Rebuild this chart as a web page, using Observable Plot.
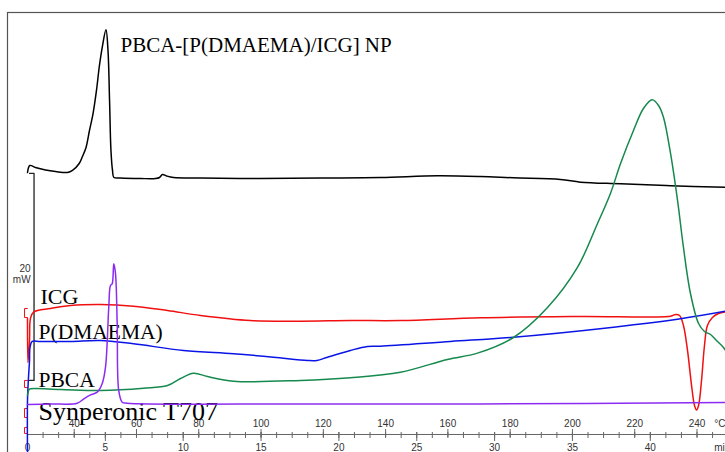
<!DOCTYPE html>
<html><head><meta charset="utf-8">
<script src="https://cdn.jsdelivr.net/npm/d3@7"></script>
<script src="https://cdn.jsdelivr.net/npm/@observablehq/plot@0.6"></script>
<style>html,body{margin:0;padding:0;background:#fff;} #chart svg{display:block}</style>
</head><body><div id="chart"></div>
<script>
// ---- DATA: DSC traces, time in min, heat flow in mW (curves offset vertically) ----
const npTime = [0,0.15,0.51,1.16,1.80,2.57,2.89,3.32,3.53,3.76,3.98,4.21,4.43,4.62,4.82,5.04,5.17,5.27,5.36,5.46,5.55,5.97,7.26,8.22,8.48,8.67,8.93,9.38,11.11,14.96,18.82,22.67,26.33,29.09,31.21,34.23,35.52,38.09,41.30,44.83];
const npFlow = [25.31,25.99,25.80,25.56,25.41,25.31,25.51,26.18,26.86,27.73,29.37,31.01,33.24,35.65,37.58,39.10,37.10,32.27,27.44,25.51,24.83,24.78,24.73,24.73,24.83,25.12,24.98,24.83,24.78,24.73,24.78,24.83,25.00,24.93,24.80,24.64,24.38,24.22,24.03,23.89];

const icgTime = [0,0.03,0.13,0.19,0.39,1.48,2.76,4.69,6.81,8.99,11.11,14.32,17.53,20.74,23.96,29.09,35.52,41.30,41.62,41.88,42.13,42.39,42.65,42.84,42.97,43.10,43.29,43.48,43.67,43.99,44.38,44.83];
const icgFlow = [11.21,6.96,9.08,11.21,11.82,12.17,12.46,12.56,12.40,11.98,11.50,11.01,10.95,11.01,11.01,11.28,11.40,11.43,11.59,11.50,10.53,8.12,4.73,2.80,2.37,2.80,5.22,8.60,10.53,11.30,11.69,11.84];

const pdmaemaTime = [0,0,0.06,0.13,0.16,0.30,0.83,2.76,4.69,6.81,10.02,13.23,15.80,17.98,18.59,19.27,20.74,21.84,22.67,27.17,31.21,37.64,41.94,44.83];
const pdmaemaFlow = [-1.74,3.29,5.41,7.15,8.41,8.99,8.99,8.99,9.08,8.76,8.12,7.80,7.47,7.15,7.15,7.47,8.12,8.50,8.53,8.99,9.40,10.37,11.18,11.91];

const pbcaTime = [0,0.10,0.19,2.12,4.69,7.45,8.99,9.83,10.66,11.56,13.23,17.53,20.74,23.96,26.97,28.90,31.21,33.40,35.32,36.61,37.44,38.09,38.92,39.56,40.12,40.53,40.85,41.30,41.75,42.13,42.58,43.10,43.48,43.87,44.25,44.70,44.83];
const pbcaFlow = [3.77,4.35,4.42,4.35,4.25,4.47,4.73,5.41,5.92,5.60,5.15,5.22,5.48,6.02,7.25,7.86,9.37,12.27,16.14,20.39,23.29,26.18,29.37,31.50,32.34,31.79,30.63,27.15,22.61,18.07,13.62,10.72,9.95,9.66,9.08,8.41,8.12];

const t707Time = [0,1.48,3.19,3.62,4.05,4.48,4.80,5.01,5.22,5.33,5.44,5.54,5.65,5.76,5.86,6.08,6.40,17.53,29.09,44.83];
const t707Flow = [2.90,2.95,3.02,3.45,3.82,4.09,4.93,6.50,12.30,14.40,14.56,16.49,15.56,10.72,4.25,3.12,3.02,2.95,2.95,3.09];

// axis ticks
const timeTicks = [0,5,10,15,20,25,30,35,40];
const minuteTicks = [0,1,2,3,4,5,6,7,8,9,10,11,12,13,14,15,16,17,18,19,20,21,22,23,24,25,26,27,28,29,30,31,32,33,34,35,36,37,38,39,40,41,42,43,44];
const tempTicks = [40,60,80,100,120,140,160,180,200,220,240];
const startTemp = 25;   // °C at t = 0
const heatingRate = 5;  // °C per min

// start-temperature markers (mW ranges) and the 20 mW scale bar
const markerTop = [12.17,5.22,2.51,0.68];
const markerBottom = [11.30,4.54,1.64,0.10];
const scaleBarLow = 5.22, scaleBarSpan = 20;

// curve names
const names = ["PBCA-[P(DMAEMA)/ICG] NP","ICG","P(DMAEMA)","PBCA","Synperonic T707"];

// ---- layout / style ----
const tEnd = 44.83;
const colors = {np:"#000000", icg:"#f01010", pd:"#0a14e6", pbca:"#16894e", t707:"#8c2cf2"};
const serif = "Liberation Serif, Times New Roman, serif";
const sans = "Liberation Sans, Arial, Helvetica, sans-serif";

const toRows = (T, V) => T.map((t, i) => ({t, v: V[i]}));
const tempToTime = T => (T - startTemp) / heatingRate;

const labelPos = [
  {text: names[0], t: 5.97, v: 37.6, size: 21},
  {text: names[1], t: 0.83, v: 13.3, size: 22},
  {text: names[2], t: 0.71, v: 9.86, size: 21.5},
  {text: names[3], t: 0.71, v: 5.25, size: 21.5},
  {text: names[4], t: 0.71, v: 2.2, size: 26}
];

const markerLines = markerTop.flatMap((top, i) => [
  {t: -0.01, v: top, k: i}, {t: -0.19, v: top, k: i},
  {t: -0.19, v: markerBottom[i], k: i}, {t: -0.01, v: markerBottom[i], k: i}
]);
const scaleBar = [
  {t: 0.13, v: scaleBarLow + scaleBarSpan}, {t: 0.42, v: scaleBarLow + scaleBarSpan},
  {t: 0.42, v: scaleBarLow}, {t: 0.13, v: scaleBarLow}
];

const lineOpts = (c) => ({x: "t", y: "v", stroke: c, strokeWidth: 1.5, curve: "catmull-rom"});

const chart = Plot.plot({
  width: 725, height: 452,
  marginLeft: 7, marginTop: 12, marginRight: -4, marginBottom: -4,
  x: {domain: [0, tEnd], range: [27, 725], axis: null},
  y: {domain: [-1.74, 41.93], range: [452, 0], axis: null},
  style: {background: "#fff", overflow: "hidden"},
  marks: [
    Plot.frame({stroke: "#555", strokeWidth: 1.2}),
    // axis
    Plot.ruleY([0], {x1: 0, x2: tEnd, stroke: "#666", strokeWidth: 1}),
    Plot.ruleX(minuteTicks, {x: d => d, y1: 0, y2: 0, insetTop: -2, insetBottom: -4, stroke: "#666"}),
    Plot.ruleX(timeTicks, {x: d => d, y1: 0, y2: 0, insetTop: -2, insetBottom: -7, stroke: "#666"}),
    Plot.ruleX(tempTicks, {x: tempToTime, y1: 0, y2: 0, insetTop: -5, insetBottom: -3, stroke: "#666"}),
    Plot.text(timeTicks, {x: d => d, y: 0, dy: 13, text: d => String(d), fontSize: 10, fill: "#333", fontFamily: sans}),
    Plot.text(tempTicks, {x: tempToTime, y: 0, dy: -11, text: d => String(d), fontSize: 10, fill: "#333", fontFamily: sans}),
    Plot.text(["min"], {x: 44.1, y: 0, dy: 13, text: d => d, textAnchor: "start", fontSize: 10, fill: "#333", fontFamily: sans}),
    Plot.text(["°C"], {x: 44.1, y: 0, dy: -11, text: d => d, textAnchor: "start", fontSize: 10, fill: "#333", fontFamily: sans}),
    // scale bar
    Plot.line(scaleBar, {x: "t", y: "v", stroke: "#222", strokeWidth: 1.3}),
    Plot.text(["20\nmW"], {x: 0.2, y: 15.5, text: d => d, textAnchor: "end", fontSize: 10, lineHeight: 1.1, fill: "#333", fontFamily: sans}),
    // curve labels
    Plot.text(labelPos, {x: "t", y: "v", text: "text", fontSize: "size", textAnchor: "start", fill: "#000", fontFamily: serif}),
    // start markers
    Plot.line(markerLines, {x: "t", y: "v", z: "k", stroke: "#f01010", strokeWidth: 1}),
    // curves
    Plot.line(toRows(npTime, npFlow), lineOpts(colors.np)),
    Plot.line(toRows(icgTime, icgFlow), lineOpts(colors.icg)),
    Plot.line(toRows(pdmaemaTime, pdmaemaFlow), lineOpts(colors.pd)),
    Plot.line(toRows(pbcaTime, pbcaFlow), lineOpts(colors.pbca)),
    Plot.line(toRows(t707Time, t707Flow), lineOpts(colors.t707))
  ]
});
document.getElementById("chart").appendChild(chart);
</script>
</body></html>
